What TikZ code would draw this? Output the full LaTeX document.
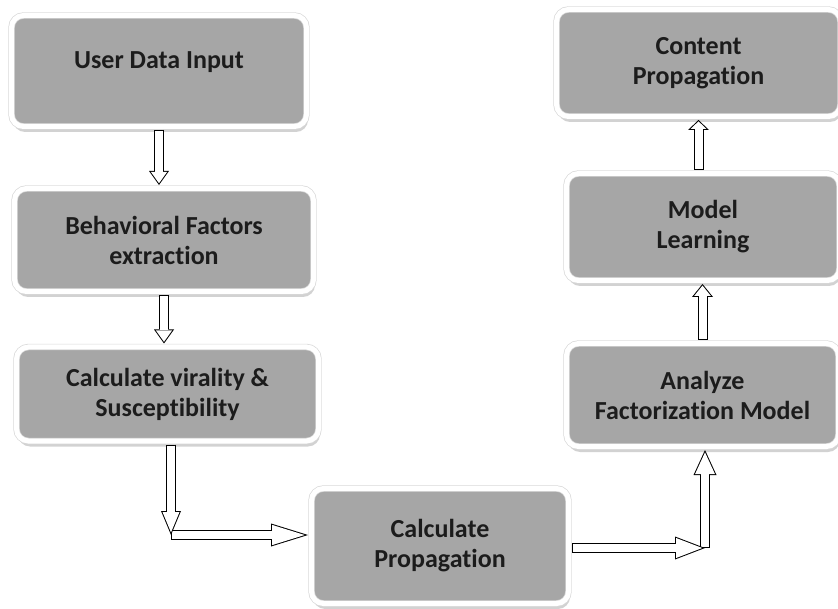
\documentclass[tikz,border=0pt]{standalone}
\usepackage{fontspec}
\setmainfont{Carlito}[Ligatures=NoCommon]
\usetikzlibrary{arrows.meta,shadows,calc}

\definecolor{boxgray}{RGB}{166,166,166}
\definecolor{textblack}{RGB}{28,28,28}

\tikzset{
    box/.style={rectangle, rounded corners=12pt, fill=boxgray,
        draw=black!15, double=white, double distance=5pt, line width=0.7pt,
        drop shadow={shadow xshift=1.5pt, shadow yshift=-5.5pt, fill=black!35},
        align=center, inner sep=0pt, outer sep=3.5pt, text=textblack,
        font=\bfseries\fontsize{26}{30}\selectfont},
    blockarrow/.code 2 args={%
        \pgfmathsetmacro\tipgap{1/sin(atan((#2/2)/#1))}%
        \pgfmathsetmacro\innerlen{#1-1-\tipgap}%
        \pgfmathsetmacro\innerwid{\innerlen*#2/#1}%
        \tikzset{line width=8pt, draw=white, shorten <=1pt, shorten >=\tipgap pt,
            -{Triangle[length=\innerlen pt, width=\innerwid pt, line width=0pt]},
            preaction={draw=black, line width=10pt, shorten <=0pt, shorten >=0pt,
                -{Triangle[length=#1pt, width=#2pt, line width=0pt]}}}},
}

\begin{document}
\begin{tikzpicture}[x=1pt, y=-1pt]
    \useasboundingbox (0,0) rectangle (838,609);

    % left column
    \node[box, minimum width=295pt, text height=53pt, text depth=58pt] (input) at (159,71) {User Data Input};
    \node[box, minimum width=299pt, minimum height=103pt] (factors) at (164,240) {Behavioral Factors\\extraction};
    \node[box, minimum width=302pt, minimum height=94pt] (virality) at (167.5,394) {Calculate virality \&\\Susceptibility};

    % bottom
    \node[box, minimum width=257pt, minimum height=115pt] (propag) at (440,546) {Calculate\\Propagation};

    % right column
    \node[box, minimum width=272pt, minimum height=103pt] (analyze) at (702.5,395) {Analyze\\Factorization Model};
    \node[box, minimum width=273pt, minimum height=107pt] (learning) at (703,227) {Model\\Learning};
    \node[box, minimum width=284pt, minimum height=107pt] (content) at (698.5,63) {Content\\Propagation};

    % bends of the arrows
    \coordinate (bendL) at (171,535);
    \coordinate (bendR) at (705,548);

    \draw[blockarrow={14}{20}] (input.south) -- (input.south |- factors.north);
    \draw[blockarrow={14}{20}] (factors.south) -- (factors.south |- virality.north);
    \draw[blockarrow={37}{23}] (bendL) -- (bendL -| propag.west);
    \draw[blockarrow={24}{20}] (bendL |- virality.south) -- (bendL);
    \draw[blockarrow={25}{23}] (bendR) -- (bendR |- analyze.south);
    \draw[blockarrow={30}{23}] (propag.east |- bendR) -- (bendR);
    \draw[blockarrow={13}{21}] (analyze.north) -- (analyze.north |- learning.south);
    \draw[blockarrow={10}{21}] (content.south |- learning.north) -- (content.south);
\end{tikzpicture}
\end{document}
